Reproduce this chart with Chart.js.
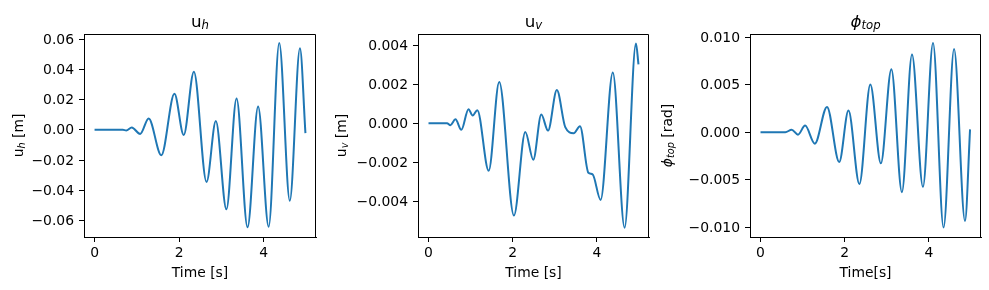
<!DOCTYPE html>
<html>
<head>
<meta charset="utf-8">
<script src="https://cdn.jsdelivr.net/npm/chart.js@4.4.1/dist/chart.umd.min.js"></script>
<style>
  body { margin: 0; background: #fff; }
  #wrap { position: relative; width: 989px; height: 290px; }
  canvas { position: absolute; top: 0; }
</style>
</head>
<body>
<div id="wrap">
  <canvas id="chartH" width="330" height="290" style="left:0px"></canvas>
  <canvas id="chartV" width="330" height="290" style="left:330px"></canvas>
  <canvas id="chartPhi" width="329" height="290" style="left:660px"></canvas>
</div>
<script>
// values
const timeH = [0, 0.67, 0.75, 0.88, 1.08, 1.28, 1.58, 1.89, 2.11, 2.35, 2.65, 2.87, 3.12, 3.36, 3.62, 3.87, 4.12, 4.37, 4.62, 4.86, 4.99];
const uH = [0, 0, -0.0004, 0.0015, -0.0027, 0.0075, -0.0168, 0.0239, -0.0035, 0.0385, -0.0345, 0.0058, -0.0526, 0.0208, -0.0645, 0.0155, -0.0641, 0.0575, -0.0469, 0.0539, -0.0022];

const timeV = [0, 0.44, 0.52, 0.64, 0.78, 0.95, 1.05, 1.16, 1.43, 1.68, 2.03, 2.30, 2.49, 2.68, 2.84, 3.05, 3.25, 3.45, 3.60, 3.80, 3.90, 4.09, 4.38, 4.66, 4.93, 4.99];
const uV = [0, 0, -0.0001, 0.0002, -0.00034, 0.00072, 0.00039, 0.00067, -0.00244, 0.00211, -0.00473, -0.00045, -0.00187, 0.00044, -0.00038, 0.0017, -0.0002, -0.00051, -0.00015, -0.00254, -0.00262, -0.00393, 0.0026, -0.00535, 0.00408, 0.00301];

const timePhi = [0, 0.59, 0.74, 0.89, 1.06, 1.29, 1.58, 1.87, 2.09, 2.35, 2.61, 2.86, 3.11, 3.36, 3.60, 3.86, 4.10, 4.35, 4.60, 4.86, 4.98];
const phiTop = [0, 0, 0.00027, -0.00025, 0.0007, -0.0012, 0.00267, -0.00313, 0.00228, -0.00545, 0.00502, -0.00327, 0.00664, -0.0063, 0.00819, -0.00574, 0.00939, -0.01002, 0.00875, -0.00933, 0.0003];

const xTicks = [0, 2, 4];
const yTicksH = [-0.06, -0.04, -0.02, 0, 0.02, 0.04, 0.06];
const yTicksV = [-0.004, -0.002, 0, 0.002, 0.004];
const yTicksPhi = [-0.01, -0.005, 0, 0.005, 0.01];

const FONT = '"DejaVu Sans", sans-serif';

function fmt(v, d) {
  let s = v.toFixed(d);
  if (Math.abs(v) < 1e-12) s = (0).toFixed(d);
  return s.replace('-', '\u2212');
}

// draws text made of parts: n = normal, i = italic, s = italic subscript
function drawParts(ctx, parts, x, y, size) {
  const fontOf = k => (k === 'n' ? '' : 'italic ') + (k === 's' ? size * 0.7 : size) + 'px ' + FONT;
  let total = 0;
  const widths = parts.map(([t, k]) => { ctx.font = fontOf(k); const w = ctx.measureText(t).width; total += w; return w; });
  let cx = x - total / 2;
  ctx.textAlign = 'left';
  ctx.textBaseline = 'alphabetic';
  parts.forEach(([t, k], i) => {
    ctx.font = fontOf(k);
    ctx.fillText(t, cx, k === 's' ? y + size * 0.17 : y);
    cx += widths[i];
  });
}

const labelPlugin = {
  id: 'labels',
  afterDraw(chart, args, o) {
    const { ctx, chartArea: a } = chart;
    ctx.save();
    ctx.strokeStyle = '#000';
    ctx.lineWidth = 1;
    ctx.beginPath();
    ctx.moveTo(Math.round(a.left) + 0.5, Math.round(a.top) + 0.5);
    ctx.lineTo(Math.round(a.right) - 0.5, Math.round(a.top) + 0.5);
    ctx.lineTo(Math.round(a.right) - 0.5, Math.round(a.bottom));
    ctx.stroke();
    ctx.fillStyle = '#000';
    const mid = (a.left + a.right) / 2;
    drawParts(ctx, o.title, mid, 26.5, 16.7);
    drawParts(ctx, o.xlabel, mid, 276.7, 13.9);
    ctx.translate(o.ylabelX, (a.top + a.bottom) / 2);
    ctx.rotate(-Math.PI / 2);
    drawParts(ctx, o.ylabel, 0, 0, 13.9);
    ctx.restore();
  }
};

function makeChart(id, times, values, yTicks, dec, yMin, yMax, yWidth, padRight, labels) {
  const points = times.map((t, i) => ({ x: t, y: values[i] }));
  const axisStyle = {
    grid: { drawOnChartArea: false, drawTicks: true, tickLength: 5, color: '#000', lineWidth: 1 },
    border: { display: true, color: '#000', width: 1 }
  };
  return new Chart(document.getElementById(id), {
    type: 'line',
    data: {
      datasets: [{
        data: points,
        borderColor: '#1f77b4',
        borderWidth: 2,
        pointRadius: 0,
        fill: false,
        cubicInterpolationMode: 'monotone'
      }]
    },
    options: {
      responsive: false,
      animation: false,
      layout: { padding: { top: 34, right: padRight, left: 0, bottom: 0 } },
      plugins: { legend: { display: false }, tooltip: { enabled: false }, labels: labels },
      scales: {
        x: {
          type: 'linear',
          min: -0.25,
          max: 5.24,
          ...axisStyle,
          afterBuildTicks: s => { s.ticks = xTicks.map(v => ({ value: v })); },
          afterFit: s => { s.height = 53; },
          ticks: { color: '#000', font: { size: 13.9, family: FONT }, padding: 3, maxRotation: 0, autoSkip: false, callback: v => String(v) }
        },
        y: {
          min: yMin,
          max: yMax,
          ...axisStyle,
          afterBuildTicks: s => { s.ticks = yTicks.map(v => ({ value: v })); },
          afterFit: s => { s.width = yWidth; },
          ticks: { color: '#000', font: { size: 13.9, family: FONT }, padding: 5, labelOffset: 1, autoSkip: false, callback: v => fmt(v, dec) }
        }
      }
    },
    plugins: [labelPlugin]
  });
}

makeChart('chartH', timeH, uH, yTicksH, 2, -0.0709, 0.0634, 84, 14, {
  title: [['u', 'n'], ['h', 's']],
  xlabel: [['Time [s]', 'n']],
  ylabel: [['u', 'n'], ['h', 's'], [' [m]', 'n']],
  ylabelX: 23
});
makeChart('chartV', timeV, uV, yTicksV, 3, -0.00583, 0.00457, 88, 11, {
  title: [['u', 'n'], ['v', 's']],
  xlabel: [['Time [s]', 'n']],
  ylabel: [['u', 'n'], ['v', 's'], [' [m]', 'n']],
  ylabelX: 16
});
makeChart('chartPhi', timePhi, phiTop, yTicksPhi, 3, -0.01102, 0.01034, 90, 8, {
  title: [['\u03D5', 'i'], ['top', 's']],
  xlabel: [['Time[s]', 'n']],
  ylabel: [['\u03D5', 'i'], ['top', 's'], [' [rad]', 'n']],
  ylabelX: 12
});
</script>
</body>
</html>
